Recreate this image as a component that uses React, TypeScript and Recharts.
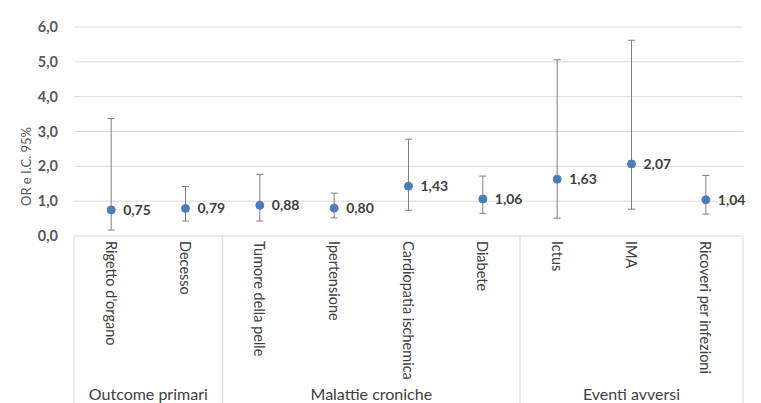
import React from 'react';
import {
  ComposedChart,
  Line,
  XAxis,
  YAxis,
  CartesianGrid,
  ErrorBar,
  LabelList,
} from 'recharts';

const categories = [
  'Rigetto d\'organo',
  'Decesso',
  'Tumore della pelle',
  'Ipertensione',
  'Cardiopatia ischemica',
  'Diabete',
  'Ictus',
  'IMA',
  'Ricoveri per infezioni',
];
const orValues = [0.75, 0.79, 0.88, 0.8, 1.43, 1.06, 1.63, 2.07, 1.04];
const ciLow = [0.17, 0.43, 0.43, 0.52, 0.74, 0.65, 0.51, 0.77, 0.63];
const ciHigh = [3.37, 1.42, 1.77, 1.23, 2.78, 1.72, 5.06, 5.62, 1.74];
const groupNames = ['Outcome primari', 'Malattie croniche', 'Eventi avversi'];
const groupSizes = [2, 4, 3];
const yTicks = [0, 1, 2, 3, 4, 5, 6];

const data = categories.map((name, i) => ({
  name,
  x: i + 0.5,
  value: orValues[i],
  err: [orValues[i] - ciLow[i], ciHigh[i] - orValues[i]],
}));

// group boundaries and centres derived from group sizes
const boundaries: number[] = [0];
const groupCenters: number[] = [];
groupSizes.forEach((s) => {
  const start = boundaries[boundaries.length - 1];
  groupCenters.push(start + s / 2);
  boundaries.push(start + s);
});

const xTicks = Array.from(
  new Set([...boundaries, ...groupCenters, ...data.map((d) => d.x)])
).sort((a, b) => a - b);

const FONT = 'Lato, "Open Sans", sans-serif';
const fmt = (v: number, d: number) => v.toFixed(d).replace('.', ',');

const XTick = (props: any) => {
  const { x, y, payload } = props;
  const v = payload.value;
  const catIdx = data.findIndex((d) => d.x === v);
  const grpIdx = groupCenters.indexOf(v);
  const isBoundary = boundaries.includes(v);
  return (
    <g>
      {isBoundary && (
        <line x1={x} y1={y} x2={x} y2={y + 170} stroke="#d9d9d9" strokeWidth={1} />
      )}
      {catIdx >= 0 && (
        <text
          x={x}
          y={y + 5}
          transform={`rotate(90, ${x}, ${y + 5})`}
          textAnchor="start"
          dominantBaseline="central"
          fontSize={14.5}
          fill="#404040"
          fontFamily={FONT}
        >
          {categories[catIdx]}
        </text>
      )}
      {grpIdx >= 0 && (
        <text
          x={x}
          y={y + 157}
          textAnchor="middle"
          dominantBaseline="central"
          fontSize={16}
          fill="#404040"
          fontFamily={FONT}
        >
          {groupNames[grpIdx]}
        </text>
      )}
    </g>
  );
};

const YTitle = (props: any) => {
  const { viewBox } = props;
  const cx = viewBox.x + 26;
  const cy = viewBox.y + viewBox.height / 2 + 35;
  return (
    <text
      x={cx}
      y={cy}
      transform={`rotate(-90, ${cx}, ${cy})`}
      textAnchor="middle"
      dominantBaseline="central"
      fontSize={13}
      fill="#595959"
      fontFamily={FONT}
    >
      OR e I.C. 95%
    </text>
  );
};

export default function App() {
  return (
    <div style={{ position: 'absolute', left: 0, top: 0, background: '#fff', fontFamily: FONT }}>
      <ComposedChart
        width={761}
        height={403}
        data={data}
        margin={{ top: 27, right: 18, bottom: 0, left: 0 }}
      >
        <CartesianGrid vertical={false} stroke="#d9d9d9" />
        <XAxis
          dataKey="x"
          type="number"
          domain={[0, 9]}
          ticks={xTicks}
          interval={0}
          height={167}
          axisLine={false}
          tickLine={false}
          tickSize={0}
          tickMargin={0}
          tick={<XTick />}
        />
        <YAxis
          type="number"
          domain={[0, 6]}
          ticks={yTicks}
          width={74}
          axisLine={false}
          tickLine={false}
          tickSize={6}
          tickMargin={10}
          tickFormatter={(v: number) => fmt(v, 1)}
          tick={{ fill: '#595959', fontSize: 14.5, fontWeight: 'bold', fontFamily: FONT }}
          label={<YTitle />}
        />
        <Line
          dataKey="value"
          stroke="none"
          isAnimationActive={false}
          dot={{ r: 4, fill: '#4a7ebb', stroke: '#4a7ebb', strokeWidth: 1 }}
          activeDot={false}
        >
          <ErrorBar dataKey="err" direction="y" width={3.5} stroke="#7f7f7f" strokeWidth={1} isAnimationActive={false} />
          <LabelList
            dataKey="value"
            position="right"
            offset={12}
            formatter={(v: any) => fmt(Number(v), 2)}
            fill="#404040"
            fontSize={14}
            fontWeight="bold"
            fontFamily={FONT}
          />
        </Line>
      </ComposedChart>
    </div>
  );
}
